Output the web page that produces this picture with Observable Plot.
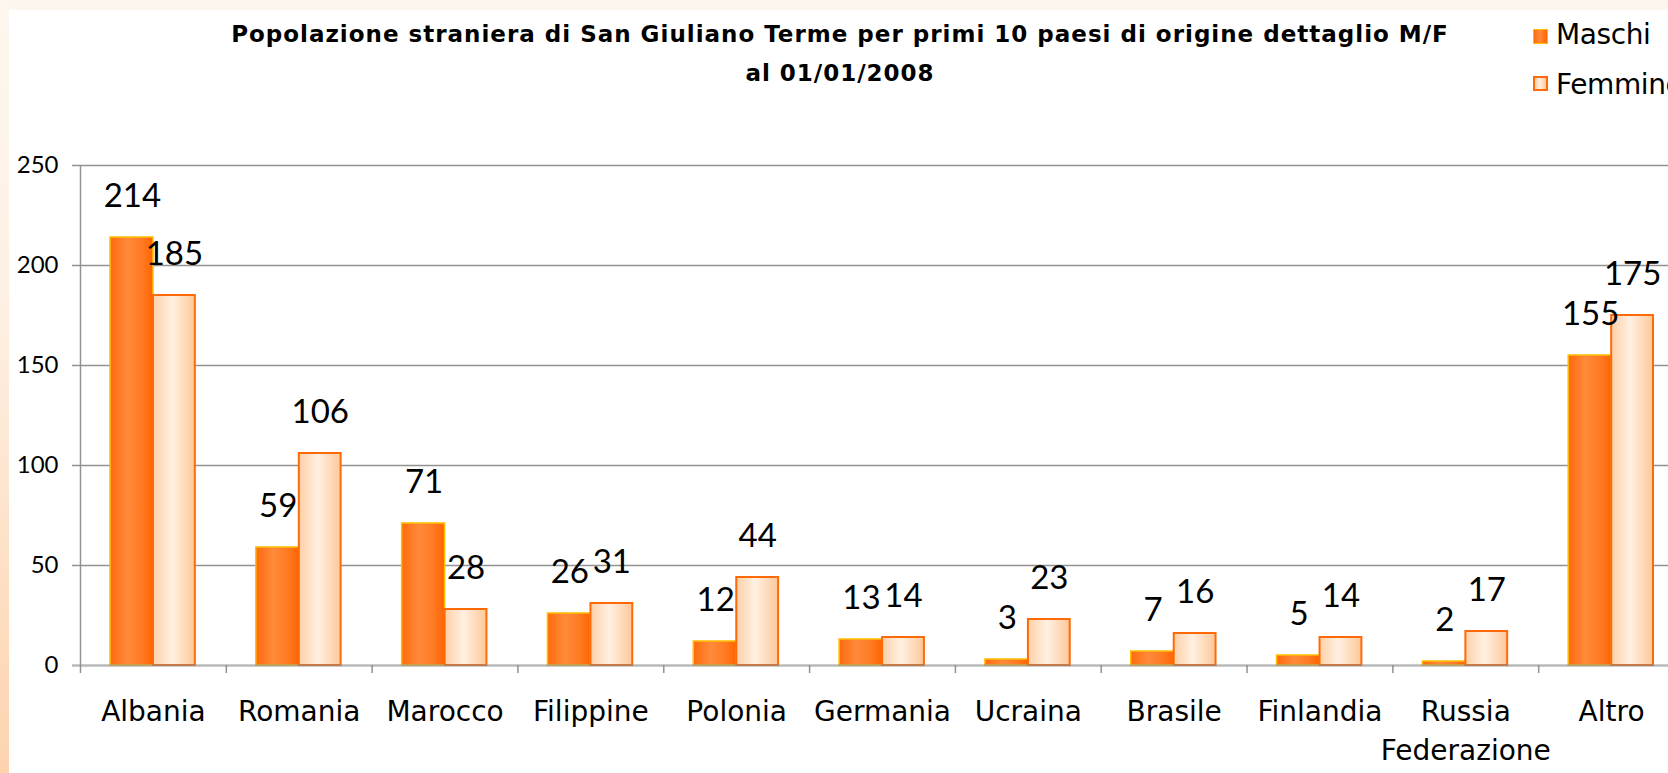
<!DOCTYPE html>
<html>
<head>
<meta charset="utf-8">
<script src="https://cdn.jsdelivr.net/npm/d3@7"></script>
<script src="https://cdn.jsdelivr.net/npm/@observablehq/plot@0.6"></script>
<style>
  html, body { margin: 0; padding: 0; background: #fff; overflow: hidden; }
  #page { position: relative; width: 1668px; height: 773px; overflow: hidden; background: #fff; }
  #topstrip { position: absolute; left: 0; top: 0; width: 1668px; height: 10px; background: #fdf6ee; }
  #leftstrip { position: absolute; left: 0; top: 0; width: 9px; height: 773px; background: linear-gradient(#fdf7ef, #fdf0e3 40%, #fdd3ae); }
  #chart { position: absolute; left: 0; top: 0; width: 1700px; height: 773px; }
  #chart svg { max-width: none !important; }
  #title { position: absolute; left: 0; width: 1680px; top: 15px; text-align: center;
           font-family: "DejaVu Sans", sans-serif; font-weight: bold; font-size: 23px; letter-spacing: 1px;
           line-height: 39px; color: #000; }
  .legsw { position: absolute; width: 15px; height: 15px; box-sizing: border-box; }
  .legtx { position: absolute; font-family: "DejaVu Sans", sans-serif; font-size: 28px; line-height: 28px; letter-spacing: -0.4px; color: #000; white-space: nowrap; }
</style>
</head>
<body>
<div id="page">
  <div id="topstrip"></div>
  <div id="leftstrip"></div>
  <div id="chart"></div>
  <div id="title"></div>
  <div id="legend"></div>
</div>
<script>
// ---- data ----
const countries = ["Albania", "Romania", "Marocco", "Filippine", "Polonia", "Germania", "Ucraina", "Brasile", "Finlandia", "Russia Federazione", "Altro"];
const maschi  = [214, 59, 71, 26, 12, 13, 3, 7, 5, 2, 155];
const femmine = [185, 106, 28, 31, 44, 14, 23, 16, 14, 17, 175];
const yTicks = [0, 50, 100, 150, 200, 250];
const seriesNames = ["Maschi", "Femmine"];
const titleLines = ["Popolazione straniera di San Giuliano Terme per primi 10 paesi di origine dettaglio M/F", "al 01/01/2008"];

// ---- layout ----
const W = 1700, H = 773, ML = 80, MR = 16, MT = 165, MB = 108;
const step = (W - ML - MR) / countries.length;

const rowsM = countries.map((c, i) => ({country: c, value: maschi[i]}));
const rowsF = countries.map((c, i) => ({country: c, value: femmine[i]}));

const chart = Plot.plot({
  width: W, height: H,
  marginLeft: ML, marginRight: MR, marginTop: MT, marginBottom: MB,
  style: {background: "transparent", fontFamily: "Lato, sans-serif", color: "#000", overflow: "visible"},
  x: {domain: countries, padding: 0, round: false, label: null},
  y: {domain: [0, 250], ticks: yTicks, label: null},
  marks: [
    Plot.ruleY(yTicks.filter(t => t > 0), {stroke: "#929292", strokeWidth: 1.5, insetLeft: -8}),
    Plot.ruleX([countries[0]], {x: d => d, dx: -step / 2, y1: -4, y2: 250, stroke: "#929292", strokeWidth: 1.5}),
    Plot.ruleX(countries.slice(1), {x: d => d, dx: -step / 2, y1: -4, y2: 0, stroke: "#929292", strokeWidth: 1.5}),
    Plot.barY(rowsM, {x: "country", y: "value", insetLeft: 30, insetRight: step - 73,
      fill: "url(#gradM)", stroke: "#ffbf00", strokeWidth: 1.5}),
    Plot.barY(rowsF, {x: "country", y: "value", insetLeft: 73, insetRight: 31,
      fill: "url(#gradF)", stroke: "#ff6a08", strokeWidth: 2}),
    Plot.ruleY([0], {stroke: "#8a8a8a", strokeOpacity: 0.6, strokeWidth: 2.5, insetLeft: -8}),
    Plot.text(rowsM, {x: "country", y: "value", text: d => String(d.value), dx: -21, dy: -41,
      fontSize: 33, lineAnchor: "middle", fill: "#000"}),
    Plot.text(rowsF, {x: "country", y: "value", text: d => String(d.value), dx: 21, dy: -41,
      fontSize: 33, lineAnchor: "middle", fill: "#000"}),
    Plot.axisY({ticks: yTicks, tickSize: 0, tickPadding: 22, fontSize: 24, label: null}),
    Plot.axisX({tickSize: 0, tickPadding: 27.5, fontSize: 28, lineHeight: 1.39, label: null,
      fontFamily: "DejaVu Sans, sans-serif",
      tickFormat: d => d.replace(" ", "\n")})
  ]
});

// gradients for bars
const defs = d3.select(chart).insert("defs", ":first-child");
const gM = defs.append("linearGradient").attr("id", "gradM").attr("x1", 0).attr("x2", 1).attr("y1", 0).attr("y2", 0);
gM.append("stop").attr("offset", "0").attr("stop-color", "#ff6a0c");
gM.append("stop").attr("offset", "0.4").attr("stop-color", "#ff8a3a");
gM.append("stop").attr("offset", "0.75").attr("stop-color", "#ff7a22");
gM.append("stop").attr("offset", "1").attr("stop-color", "#ff6400");
const gF = defs.append("linearGradient").attr("id", "gradF").attr("x1", 0).attr("x2", 1).attr("y1", 0).attr("y2", 0);
gF.append("stop").attr("offset", "0").attr("stop-color", "#fdd0a6");
gF.append("stop").attr("offset", "0.45").attr("stop-color", "#fff0e2");
gF.append("stop").attr("offset", "1").attr("stop-color", "#fdc898");

document.getElementById("chart").appendChild(chart);

// title
document.getElementById("title").innerHTML = titleLines.join("<br>");

// legend
const legend = document.getElementById("legend");
const legStyles = [
  {fill: "linear-gradient(90deg,#ff6a0c,#ff8a3a 45%,#ff6400)", border: "1.5px solid #ffbf00"},
  {fill: "linear-gradient(90deg,#fdd0a6,#fff0e2 45%,#fdc898)", border: "2px solid #ff6a08"}
];
seriesNames.forEach((name, i) => {
  const sw = document.createElement("div");
  sw.className = "legsw";
  sw.style.left = "1533px"; sw.style.top = (29 + i * 47) + "px";
  sw.style.background = legStyles[i].fill; sw.style.border = legStyles[i].border;
  legend.appendChild(sw);
  const tx = document.createElement("div");
  tx.className = "legtx";
  tx.style.left = "1556px"; tx.style.top = (21 + i * 50) + "px";
  tx.textContent = name;
  legend.appendChild(tx);
});
</script>
</body>
</html>
